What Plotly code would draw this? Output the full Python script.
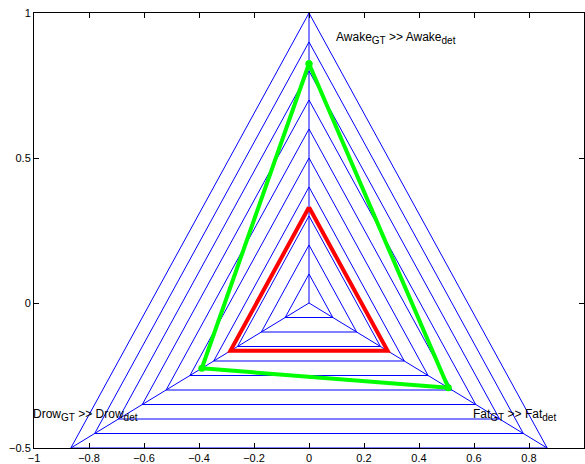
import numpy as np
import plotly.graph_objects as go

# Data
axis_labels = ["Awake<sub>GT</sub> &gt;&gt; Awake<sub>det</sub>",
               "Drow<sub>GT</sub> &gt;&gt; Drow<sub>det</sub>",
               "Fat<sub>GT</sub> &gt;&gt; Fat<sub>det</sub>"]
axis_angles_deg = [90, 210, 330]
grid_levels = [0.1, 0.2, 0.3, 0.4, 0.5, 0.6, 0.7, 0.8, 0.9, 1.0]
red_values = [0.33, 0.33, 0.33]
green_values = [0.825, 0.45, 0.585]
x_ticks = [-1, -0.8, -0.6, -0.4, -0.2, 0, 0.2, 0.4, 0.6, 0.8, 1]
y_ticks = [-0.5, 0, 0.5, 1]
label_pos_x = [0.1, -1.0, 0.6]
label_pos_y = [0.915, -0.385, -0.385]

ang = np.deg2rad(axis_angles_deg)


def polygon(vals):
    v = np.asarray(vals, dtype=float)
    xs = v * np.cos(ang)
    ys = v * np.sin(ang)
    return np.append(xs, xs[0]), np.append(ys, ys[0])


fig = go.Figure()
blue = "#0000ff"

# grid triangles
for lev in grid_levels:
    xs, ys = polygon([lev] * 3)
    fig.add_trace(go.Scatter(x=xs, y=ys, mode="lines",
                             line=dict(color=blue, width=1), hoverinfo="skip"))
# spokes
for a in ang:
    fig.add_trace(go.Scatter(x=[0, np.cos(a)], y=[0, np.sin(a)], mode="lines",
                             line=dict(color=blue, width=1), hoverinfo="skip"))

xs, ys = polygon(red_values)
fig.add_trace(go.Scatter(x=xs, y=ys, mode="lines",
                         line=dict(color="#ff0000", width=4)))
xs, ys = polygon(green_values)
fig.add_trace(go.Scatter(x=xs, y=ys, mode="lines+markers",
                         line=dict(color="#00ff00", width=4),
                         marker=dict(color="#00ff00", size=7)))


def big_sub(t):
    return t.replace("<sub>", "<sub><span style='font-size:10px'>").replace("</sub>", "</span></sub>")


for t, lx, ly in zip(axis_labels, label_pos_x, label_pos_y):
    fig.add_annotation(x=lx, y=ly, text=big_sub(t), showarrow=False, xanchor="left",
                       yanchor="middle", xref="x", yref="y", xshift=-3,
                       font=dict(size=12, color="black"))


def fmt(v):
    s = ("%g" % v)
    return s.replace("-", "\u2212")


axis_common = dict(showgrid=False, zeroline=False, showline=True, mirror="ticks",
                   linecolor="black", linewidth=1, ticks="inside", ticklen=5,
                   tickcolor="black", tickfont=dict(size=11, color="black"))

fig.update_layout(
    width=585, height=464,
    margin=dict(l=34, r=1, t=13, b=16),
    paper_bgcolor="white", plot_bgcolor="white",
    showlegend=False,
    font=dict(family="Liberation Sans, Arial, Helvetica, sans-serif"),
    xaxis=dict(range=[-1, 1], tickvals=x_ticks, ticktext=[fmt(v) for v in x_ticks],
               **axis_common),
    yaxis=dict(range=[-0.5, 1], tickvals=y_ticks, ticktext=[fmt(v) for v in y_ticks],
               **axis_common),
)

fig.write_html("out.html", config={"displayModeBar": False},
               post_script="document.body.style.margin='0';document.body.style.padding='0';")
